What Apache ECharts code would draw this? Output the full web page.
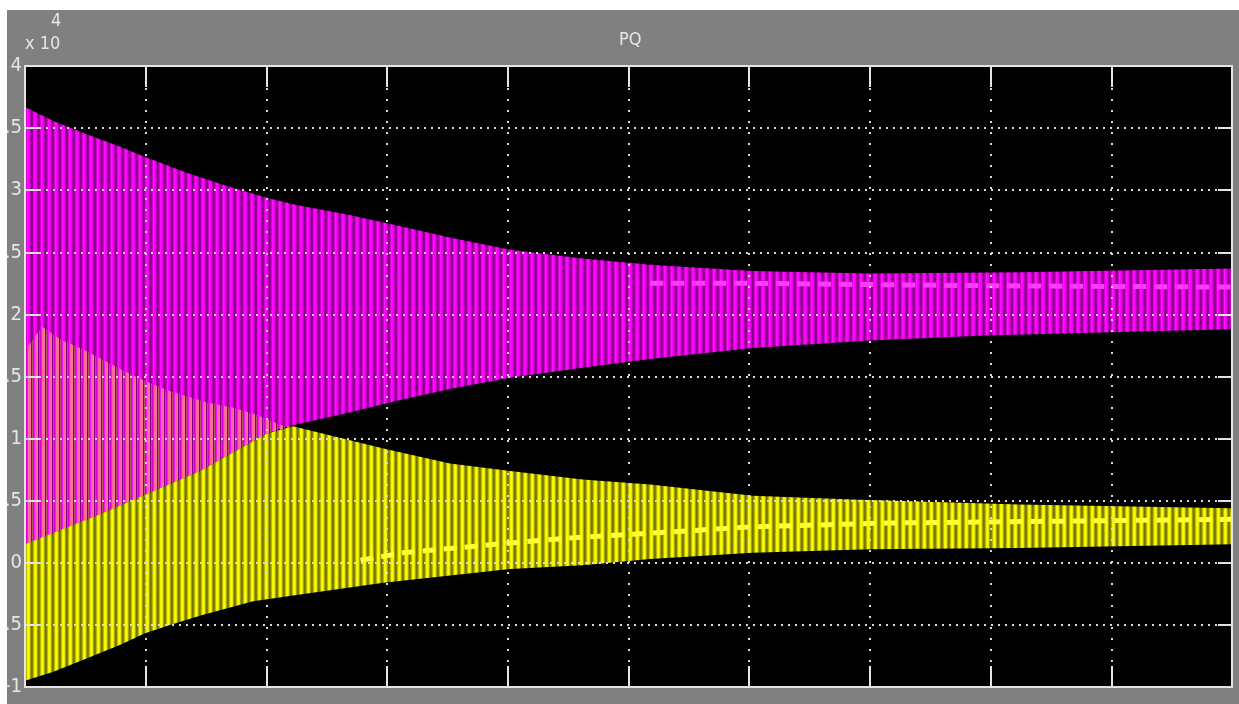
<!DOCTYPE html>
<html>
<head>
<meta charset="utf-8">
<script src="https://cdn.jsdelivr.net/npm/echarts@6/dist/echarts.min.js"></script>
<style>
  html, body { margin: 0; padding: 0; background: #ffffff; width: 1239px; height: 704px; overflow: hidden; }
  #chart { position: absolute; left: 7px; top: 10px; width: 1232px; height: 694px; background: #808080; }
</style>
</head>
<body>
<div id="chart"></div>
<script>
// ---- data (t = time on a 0..1 scale, value in units of 1e4) ----
const yTicks = [-1, -0.5, 0, 0.5, 1, 1.5, 2, 2.5, 3, 3.5, 4];

// P (magenta): upper envelope
const pUpper = [[0.000,3.67],[0.023,3.56],[0.051,3.45],[0.079,3.35],[0.099,3.27],[0.134,3.14],
  [0.162,3.05],[0.200,2.94],[0.225,2.88],[0.269,2.80],[0.311,2.71],[0.352,2.62],[0.402,2.52],
  [0.462,2.45],[0.518,2.40],[0.603,2.35],[0.700,2.33],[0.824,2.34],[1.000,2.37]];
// P (magenta): lower envelope
const pLower = [[0.000,0.12],[0.062,0.39],[0.145,0.74],[0.200,1.04],[0.214,1.09],[0.269,1.21],
  [0.311,1.31],[0.352,1.40],[0.402,1.49],[0.462,1.57],[0.518,1.64],[0.603,1.73],[0.700,1.79],
  [0.797,1.83],[0.915,1.86],[1.000,1.88]];
// P centre (bright dashes)
const pCentre = [[0.518,2.25],[0.603,2.25],[0.700,2.24],[0.808,2.23],[1.000,2.22]];

// Q (yellow): dense upper edge
const qUpper = [[0.000,0.15],[0.062,0.39],[0.145,0.74],[0.200,1.04],[0.222,1.10],[0.297,0.92],
  [0.352,0.80],[0.402,0.74],[0.462,0.67],[0.518,0.63],[0.603,0.54],[0.686,0.51],[0.824,0.47],
  [1.000,0.44]];
// Q transient peaks (pink, drawn over P)
const qPeaks = [[0.000,1.71],[0.014,1.90],[0.031,1.79],[0.048,1.72],[0.079,1.56],[0.098,1.47],
  [0.118,1.39],[0.151,1.29],[0.172,1.25],[0.189,1.20],[0.215,1.10]];
// Q (yellow): lower envelope
const qLower = [[0.000,-0.95],[0.023,-0.88],[0.051,-0.77],[0.079,-0.66],[0.099,-0.57],
  [0.120,-0.50],[0.147,-0.42],[0.189,-0.31],[0.225,-0.26],[0.297,-0.16],[0.402,-0.05],
  [0.462,-0.02],[0.518,0.03],[0.603,0.08],[0.700,0.11],[0.824,0.12],[1.000,0.15]];
// Q centre (bright dashes)
const qCentre = [[0.278,0.02],[0.313,0.08],[0.402,0.16],[0.452,0.20],[0.504,0.23],[0.603,0.29],
  [0.714,0.32],[0.810,0.33],[1.000,0.35]];

// ---- styling helpers ----
function stripes(cols) {
  const c = document.createElement('canvas');
  c.width = cols.length; c.height = 4;
  const g = c.getContext('2d');
  cols.forEach((col, i) => { if (col) { g.fillStyle = col; g.fillRect(i, 0, 1, 4); } });
  return { image: c, repeat: 'repeat' };
}
const magentaFill = stripes(['#ff00ff', '#f000f0', '#b000b0', '#800080', '#9a009a', '#d400d4', '#ff10ff']);
const yellowFill  = stripes(['#ffff00', '#e8e800', '#a4a400', '#727200', '#848400', '#b8b800', '#f4f400']);
const pinkFill    = stripes(['#ff6a9c', '#ff6a9c', '#ff70a0', null, '#a85a60', null, null]);

function band(upper, lower, fill) {
  return {
    type: 'custom', silent: true, clip: true, z: 2,
    data: [[0, 0]],
    renderItem: function (params, api) {
      const pts = upper.map(p => api.coord(p))
        .concat(lower.slice().reverse().map(p => api.coord(p)));
      return { type: 'polygon', shape: { points: pts }, style: { fill: fill } };
    }
  };
}
function centre(data, color) {
  return {
    type: 'line', data: data, symbol: 'none', silent: true, z: 3, smooth: false,
    lineStyle: { color: color, width: 5, type: [13, 8] }
  };
}

const chart = echarts.init(document.getElementById('chart'), null, { renderer: 'canvas' });
const labelFont = "'Liberation Sans Narrow', 'DejaVu Sans Condensed', 'Liberation Sans', sans-serif";
const frame = { show: true, onZero: false, lineStyle: { color: '#e4e4e4', width: 2 } };
const tickX = { show: true, inside: true, length: 21, lineStyle: { color: '#e4e4e4', width: 2 } };
const tickY = { show: true, inside: true, length: 14, lineStyle: { color: '#e4e4e4', width: 2 } };

chart.setOption({
  animation: false,
  backgroundColor: '#808080',
  grid: { left: 18, top: 56, right: 7, bottom: 17, outerBoundsMode: 'none', containLabel: false,
    backgroundColor: '#000000', show: true, borderWidth: 0 },
  xAxis: [
    { type: 'value', min: 0, max: 1, interval: 0.1, position: 'bottom', z: 10,
      axisLine: frame, axisLabel: { show: false }, axisTick: tickX,
      splitLine: { show: true, lineStyle: { color: '#d8d8d8', width: 2, type: [2, 9] } } },
    { type: 'value', min: 0, max: 1, interval: 0.1, position: 'top', z: 10,
      axisLine: frame, axisLabel: { show: false }, axisTick: tickX,
      splitLine: { show: false } }
  ],
  yAxis: [
    { type: 'value', min: -1, max: 4, interval: 0.5, position: 'left', z: 10,
      axisLine: frame, axisTick: tickY,
      axisLabel: { show: true, color: '#e6e6e6', fontSize: 20, fontFamily: labelFont, margin: 3,
        customValues: yTicks, formatter: v => String(v) },
      splitLine: { show: true, lineStyle: { color: '#d8d8d8', width: 2, type: [2, 5] } } },
    { type: 'value', min: -1, max: 4, interval: 0.5, position: 'right', z: 10,
      axisLine: frame, axisLabel: { show: false }, axisTick: tickY,
      splitLine: { show: false } }
  ],
  graphic: [
    { type: 'text', left: 612, top: 21, silent: true,
      style: { text: 'PQ', fill: '#e6e6e6', font: "18px " + labelFont } },
    { type: 'text', left: 18, top: 25, silent: true,
      style: { text: 'x 10', fill: '#e6e6e6', font: "18px " + labelFont } },
    { type: 'text', left: 44, top: 2, silent: true,
      style: { text: '4', fill: '#e6e6e6', font: "18px " + labelFont } }
  ],
  series: [
    band(pUpper, pLower, magentaFill),
    band(qPeaks, qUpper.filter(p => p[0] <= 0.222), pinkFill),
    band(qUpper, qLower, yellowFill),
    centre(pCentre, '#ff3cff'),
    centre(qCentre, '#ffff30')
  ]
});
</script>
</body>
</html>
